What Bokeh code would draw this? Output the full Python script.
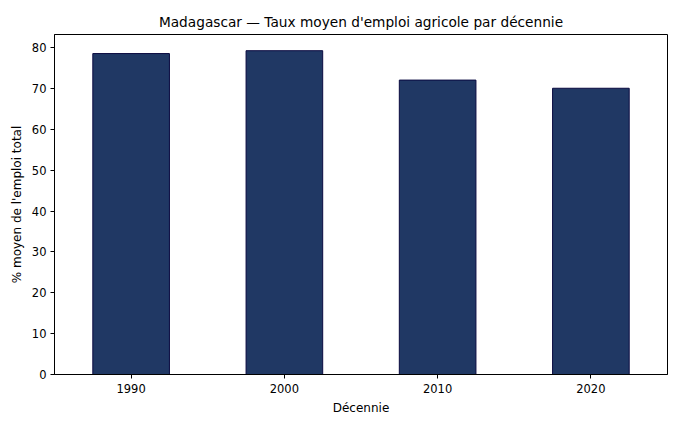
from bokeh.plotting import figure
from bokeh.models import FactorRange, Range1d, SingleIntervalTicker, ColumnDataSource
from bokeh.embed import file_html
from bokeh.resources import INLINE

decades = ["1990", "2000", "2010", "2020"]
values = [78.6, 79.3, 72.1, 70.1]

FONT = "DejaVu Sans"

src = ColumnDataSource(dict(x=decades, top=values))

p = figure(
    width=672, height=417,
    x_range=FactorRange(*decades, range_padding=0),
    y_range=Range1d(0, max(values) * 1.05),
    output_backend="svg", toolbar_location=None,
    title="Madagascar \u2014 Taux moyen d'emploi agricole par d\u00e9cennie",
    min_border_left=54, min_border_right=5, min_border_top=34, min_border_bottom=39,
)
p.vbar(x="x", top="top", width=0.5, source=src,
       fill_color="#203864", line_color="#0a0a40", line_width=1)

p.title.align = "center"
p.title.text_font = FONT
p.title.text_font_size = "13.7px"
p.title.text_font_style = "normal"
p.title.text_color = "#000000"

p.xgrid.visible = False
p.ygrid.visible = False
p.outline_line_color = "#000000"
p.outline_line_width = 1

p.yaxis.ticker = SingleIntervalTicker(interval=10, num_minor_ticks=0)
for ax in (p.xaxis, p.yaxis):
    ax.major_label_text_font = FONT
    ax.major_label_text_font_size = "11.5px"
    ax.major_label_text_color = "#000000"
    ax.axis_label_text_font = FONT
    ax.axis_label_text_font_size = "12px"
    ax.axis_label_text_font_style = "normal"
    ax.axis_label_text_color = "#000000"
    ax.axis_line_color = "#000000"
    ax.major_tick_line_color = "#000000"
    ax.major_tick_out = 4
    ax.major_tick_in = 0
    ax.minor_tick_line_color = None
p.xaxis.axis_label = "D\u00e9cennie"
p.yaxis.axis_label = "% moyen de l'emploi total"
p.xaxis.major_label_standoff = 5
p.yaxis.major_label_standoff = 4
p.xaxis.axis_label_standoff = 5
p.yaxis.axis_label_standoff = 5

open("out.html", "w").write(file_html(p, INLINE))
